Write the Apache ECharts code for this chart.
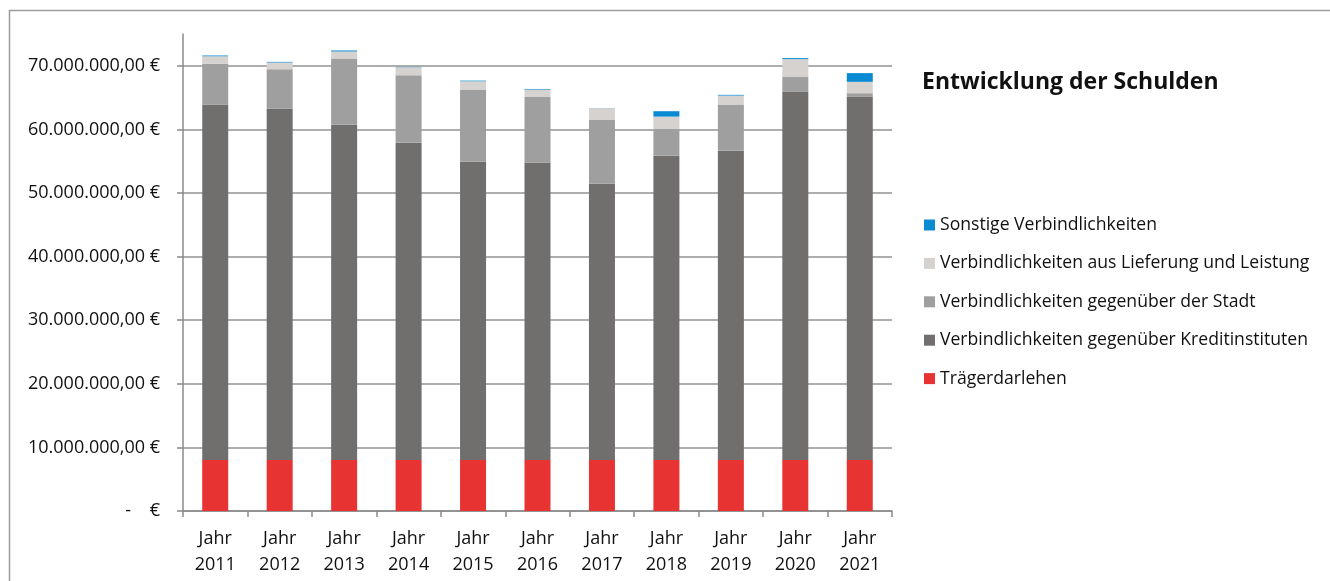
<!DOCTYPE html>
<html>
<head>
<meta charset="utf-8">
<script src="https://cdn.jsdelivr.net/npm/echarts@6/dist/echarts.min.js"></script>
<style>
html,body{margin:0;padding:0;background:#fff;}
#chart{width:1330px;height:581px;}
</style>
</head>
<body>
<div id="chart"></div>
<script>
const years = ['2011','2012','2013','2014','2015','2016','2017','2018','2019','2020','2021'];
const categories = years.map(y => 'Jahr\n' + y);
const yTicks = [0, 10000000, 20000000, 30000000, 40000000, 50000000, 60000000, 70000000];

const traegerdarlehen = [8000000, 8000000, 8000000, 8000000, 8000000, 8000000, 8000000, 8000000, 8000000, 8000000, 8000000];
const kreditinstitute = [55900000, 55270000, 52750000, 49900000, 46900000, 46800000, 43450000, 47860000, 48650000, 57950000, 57160000];
const stadt = [6400000, 6200000, 10400000, 10620000, 11360000, 10300000, 10030000, 4210000, 7250000, 2360000, 530000];
const lieferungLeistung = [1200000, 1050000, 1100000, 1260000, 1310000, 1160000, 1850000, 1940000, 1420000, 2740000, 1790000];
const sonstige = [120000, 100000, 160000, 50000, 100000, 100000, 20000, 850000, 110000, 160000, 1370000];

const names = {
  t: 'Trägerdarlehen',
  k: 'Verbindlichkeiten gegenüber Kreditinstituten',
  s: 'Verbindlichkeiten gegenüber der Stadt',
  l: 'Verbindlichkeiten aus Lieferung und Leistung',
  o: 'Sonstige Verbindlichkeiten'
};

const FONT = 'Open Sans';
function euro(v) {
  if (v === 0) return '-    €';
  const s = Math.round(v).toString().replace(/\B(?=(\d{3})+(?!\d))/g, '.');
  return s + ',00 €';
}

const chart = echarts.init(document.getElementById('chart'), null, {renderer: 'canvas'});
function bar(name, data, color) {
  return {
    name: name, type: 'bar', stack: 'total', data: data, barWidth: 26,
    itemStyle: {color: color},
    emphasis: {disabled: true}
  };
}
chart.setOption({
  animation: false,
  backgroundColor: '#ffffff',
  textStyle: {fontFamily: FONT},
  graphic: [{
    type: 'rect', silent: true,
    shape: {x: 9.5, y: 10.5, width: 1340, height: 600},
    style: {fill: 'none', stroke: '#9c9c9c', lineWidth: 1.5}
  }, {
    type: 'text', left: 922, top: 71,
    style: {text: 'Entwicklung der Schulden', font: 'bold 23px "Open Sans"', fill: '#111'}
  }],
  grid: {left: 183, right: 438, top: 34, bottom: 70},
  legend: {
    orient: 'vertical', left: 924, top: 216, padding: 0,
    itemWidth: 11, itemHeight: 11, itemGap: 20.4,
    icon: 'rect',
    textStyle: {fontFamily: FONT, fontSize: 17.6, color: '#111'},
    data: [names.o, names.l, names.s, names.k, names.t]
  },
  xAxis: {
    type: 'category', data: categories,
    axisLine: {lineStyle: {color: '#8a8a8a', width: 1.5}},
    axisTick: {show: true, length: 6, lineStyle: {color: '#8a8a8a', width: 1.5}},
    axisLabel: {color: '#111', fontFamily: FONT, fontSize: 18, lineHeight: 26, margin: 15}
  },
  yAxis: {
    type: 'value', min: 0, max: 75000000, interval: 10000000,
    axisLine: {show: true, lineStyle: {color: '#8a8a8a', width: 1.5}},
    axisTick: {show: true, length: 6, lineStyle: {color: '#8a8a8a', width: 1.5}, customValues: yTicks},
    axisLabel: {color: '#111', fontFamily: FONT, fontSize: 18, margin: 23, formatter: euro, customValues: yTicks},
    splitLine: {show: true, lineStyle: {color: '#939393', width: 1.5}}
  },
  series: [
    bar(names.t, traegerdarlehen, '#E73331'),
    bar(names.k, kreditinstitute, '#706F6E'),
    bar(names.s, stadt, '#A09F9F'),
    bar(names.l, lieferungLeistung, '#D5D2CF'),
    bar(names.o, sonstige, '#0A8AD2')
  ]
});
</script>
</body>
</html>
